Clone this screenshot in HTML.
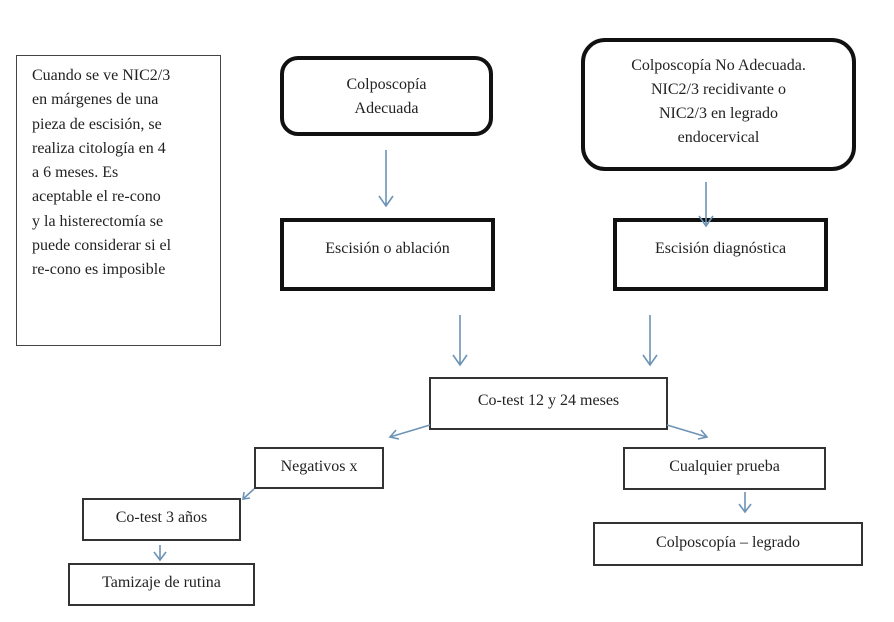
<!DOCTYPE html>
<html><head><meta charset="utf-8"><style>
body{margin:0;width:894px;height:622px;background:#fff;position:relative;overflow:hidden;font-family:"Liberation Serif",serif;color:#222;}
.b{position:absolute;box-sizing:border-box;background:#fff;text-align:center;font-size:16px;}
.t{border:2px solid #333;}
.k{border:4px solid #111;}
.r{border-radius:18px;}
</style></head><body>
<div class="b" style="left:16px;top:55px;width:205px;height:291px;border:1.5px solid #444;text-align:left;padding:8px 0 0 15px;line-height:24.3px;font-size:16px;">Cuando se ve NIC2/3<br>en márgenes de una<br>pieza de escisión, se<br>realiza citología en 4<br>a 6 meses. Es<br>aceptable el re-cono<br>y la histerectomía se<br>puede considerar si el<br>re-cono es imposible</div>
<div class="b k r" style="left:280px;top:56px;width:213px;height:80px;padding-top:13px;line-height:24px;">Colposcopía<br>Adecuada</div>
<div class="b k r" style="left:581px;top:38px;width:275px;height:133px;border-radius:24px;padding-top:12px;line-height:24px;">Colposcopía No Adecuada.<br>NIC2/3 recidivante o<br>NIC2/3 en legrado<br>endocervical</div>
<div class="b k" style="left:280px;top:218px;width:215px;height:73px;padding-top:18px;">Escisión o ablación</div>
<div class="b k" style="left:613px;top:218px;width:215px;height:73px;padding-top:18px;">Escisión diagnóstica</div>
<div class="b t" style="left:429px;top:377px;width:239px;height:53px;padding-top:13px;">Co-test 12 y 24 meses</div>
<div class="b t" style="left:254px;top:447px;width:130px;height:42px;padding-top:9px;">Negativos x</div>
<div class="b t" style="left:623px;top:447px;width:203px;height:43px;padding-top:9px;">Cualquier prueba</div>
<div class="b t" style="left:82px;top:498px;width:159px;height:43px;padding-top:9px;">Co-test 3 años</div>
<div class="b t" style="left:593px;top:522px;width:270px;height:44px;padding-top:10px;">Colposcopía – legrado</div>
<div class="b t" style="left:68px;top:563px;width:187px;height:43px;padding-top:9px;">Tamizaje de rutina</div>
<svg width="894" height="622" style="position:absolute;left:0;top:0" fill="none" stroke="#6d93b5" stroke-width="1.6">
<path d="M386 150V206M379 196l7 10 7-10"/>
<path d="M706 182V226M699 216l7 10 7-10"/>
<path d="M460 315V365M453 355l7 10 7-10"/>
<path d="M650 315V365M643 355l7 10 7-10"/>
<path d="M430 425L390 437M396 430l-6 7 9 2"/>
<path d="M667 425L707 437M701 430l6 7-9 2"/>
<path d="M254 489L243 499M244 492l-1 7 7-1"/>
<path d="M160 545V560M154 552l6 8 6-8"/>
<path d="M745 492V512M739 504l6 8 6-8"/>
</svg>
</body></html>
